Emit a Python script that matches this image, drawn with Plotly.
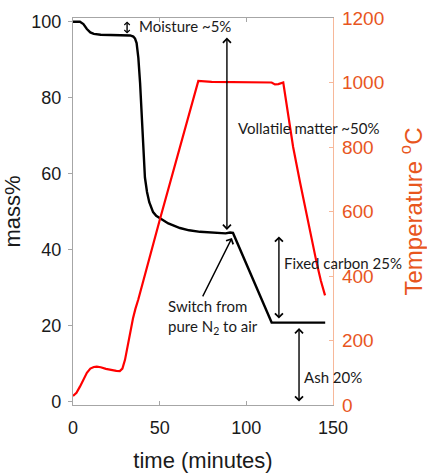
import plotly.graph_objects as go

# Thermogravimetric run: sample mass (%) and furnace temperature (°C) vs time
time_mass = [0, 4, 6, 8, 10, 12, 16, 22, 28, 33, 34.8, 35.8, 36.7, 37.7, 38.7, 39.6,
             40.6, 41.5, 42.7, 44, 46.2, 48, 50.2, 55, 61.7, 67, 73.3, 80, 84.8, 88,
             90.6, 92.3, 114.6, 130, 145.5]
mass_pct = [100, 100, 99.4, 98.1, 97.2, 96.8, 96.6, 96.5, 96.5, 96.4, 96.1, 95.6, 94.4,
            90.5, 83.9, 75.3, 63.9, 59, 55.2, 52.5, 49.9, 48.9, 48.3, 46.9, 45.7, 45.1,
            44.7, 44.6, 44.4, 44.3, 44.5, 44.4, 20.8, 20.8, 20.8]

time_temp = [0, 2, 4, 6, 8, 10, 12, 13.7, 16, 19, 22, 25, 27, 28.5, 30, 31, 33, 34.6,
             36, 37.7, 50, 60, 72.3, 80, 90, 100, 110, 114.6, 116.5, 118.5, 121.3,
             122.5, 127, 131, 134.8, 138, 140.6, 143, 145.4]
temp_c = [28, 38, 57, 80, 100, 113, 118, 119, 117, 112, 108, 106, 105, 113, 140, 170,
          225, 268, 298, 328, 573, 770, 1005, 1002, 1001, 1002, 1001, 1000, 994, 995,
          1000, 960, 800, 690, 590, 500, 440, 385, 340]

x_ticks = [0, 50, 100, 150]
mass_ticks = [0, 20, 40, 60, 80, 100]
temp_ticks = [0, 200, 400, 600, 800, 1000, 1200]

# Characteristic levels of the mass curve
moisture_level = 96.5   # after drying
char_level = 44.4       # end of pyrolysis in N2
ash_level = 20.8        # residue after burn-off in air
switch_time, switch_mass = 92.3, 44.4

ORANGE = "#E8561E"
PALE_ORANGE = "#F7B89A"
GREY = "#A6A6A6"
SANS = "Liberation Sans, Arial, sans-serif"
TICK_FONT = dict(family=SANS, size=18, color="#1a1a1a")
NOTE_FONT = dict(family="Lato, Open Sans, sans-serif", size=15, color="#1a1a1a")

fig = go.Figure()
fig.add_trace(go.Scatter(x=time_temp, y=temp_c, mode="lines", yaxis="y2",
                         line=dict(color="#FF0000", width=2.2), showlegend=False))
fig.add_trace(go.Scatter(x=time_mass, y=mass_pct, mode="lines", yaxis="y",
                         line=dict(color="#000000", width=2.4), showlegend=False))


def double_arrow(x, y_low, y_high, stand_low=0, stand_high=0, size=1.1):
    return dict(x=x, y=y_low, ax=x, ay=y_high, xref="x", yref="y", axref="x", ayref="y",
                text="", showarrow=True, arrowside="end+start", arrowhead=4,
                startarrowhead=4, arrowsize=size, startarrowsize=size, arrowwidth=1.4,
                arrowcolor="#000000", standoff=stand_low, startstandoff=stand_high)


def note(x, y, text):
    return dict(x=x, y=y, xref="x", yref="y", text=text, showarrow=False,
                xanchor="left", yanchor="middle", font=NOTE_FONT, align="left")


annotations = [
    double_arrow(31.2, 96.9, 100.5, size=0.75),
    note(37.0, 99.0, "Moisture ~5%"),
    double_arrow(88.8, char_level, moisture_level, stand_low=3, stand_high=1),
    note(93.8, 72.0, "Vollatile matter ~50%"),
    double_arrow(118.8, ash_level, char_level, stand_low=4, stand_high=2),
    note(120.6, 36.5, "Fixed carbon 25%"),
    double_arrow(130.4, 0, ash_level, stand_low=0, stand_high=4),
    note(132.4, 6.5, "Ash 20%"),
    dict(x=switch_time - 0.6, y=switch_mass - 1.3, ax=74.4, ay=27.3, xref="x", yref="y",
         axref="x", ayref="y", text="", showarrow=True, arrowhead=4, arrowsize=1.1,
         arrowwidth=1.4, arrowcolor="#000000"),
    note(53.4, 22.4, "Switch from<br>pure N<sub>2</sub> to air"),
]

fig.update_layout(
    width=427, height=473,
    margin=dict(l=73, r=94, t=18, b=68, autoexpand=False),
    paper_bgcolor="white", plot_bgcolor="white",
    annotations=annotations,
    xaxis=dict(range=[0, 150], tickvals=x_ticks, ticks="inside", ticklen=4,
               tickcolor=GREY, showline=True, linecolor=GREY, linewidth=1.3,
               mirror="ticks", showgrid=False, zeroline=False, tickfont=TICK_FONT,
               ticklabelstandoff=6, automargin=False,
               title=dict(text="time (minutes)", standoff=16,
                          font=dict(family=SANS, size=22, color="#1a1a1a"))),
    yaxis=dict(range=[-0.9, 101], tickvals=mass_ticks, ticks="outside", ticklen=4,
               tickcolor=GREY, showline=True, linecolor=GREY, linewidth=1.3,
               showgrid=False, zeroline=False, tickfont=TICK_FONT, ticklabelstandoff=3,
               automargin=False,
               title=dict(text="mass%", standoff=14,
                          font=dict(family=SANS, size=22, color="#1a1a1a"))),
    yaxis2=dict(range=[0, 1200], tickvals=temp_ticks, overlaying="y", side="right",
                ticks="inside", ticklen=4, tickcolor=PALE_ORANGE, showline=True,
                linecolor=PALE_ORANGE, linewidth=1.3, showgrid=False, zeroline=False,
                tickfont=dict(family=SANS, size=19, color=ORANGE), ticklabelstandoff=4,
                automargin=False,
                title=dict(text="Temperature <sup>o</sup>C", standoff=21,
                           font=dict(family=SANS, size=24, color=ORANGE))),
)

fig.write_html("out.html")
